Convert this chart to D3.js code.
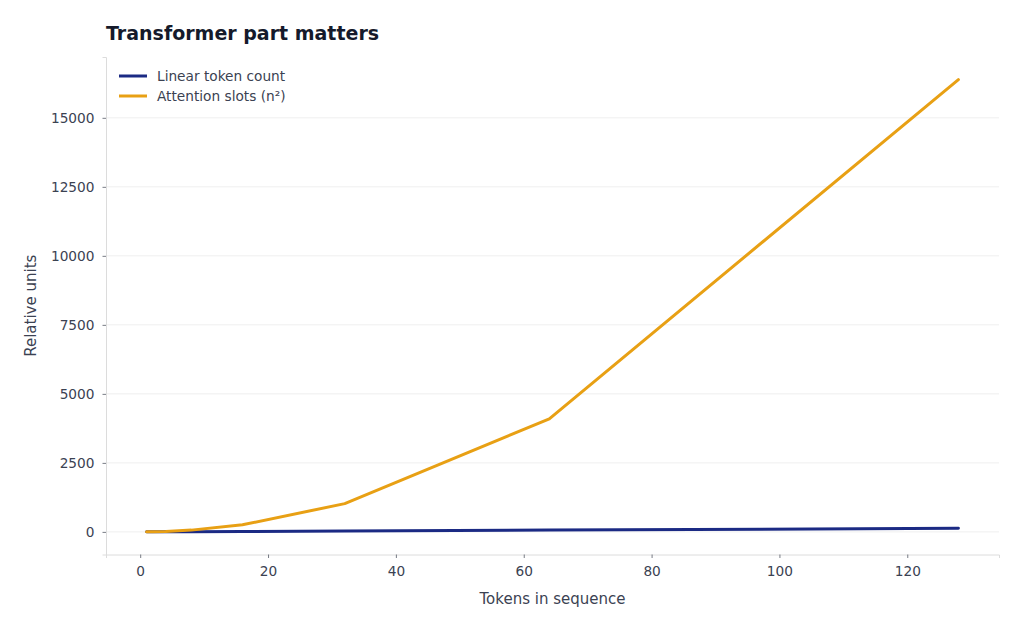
<!DOCTYPE html>
<html><head><meta charset="utf-8">
<script src="https://cdn.jsdelivr.net/npm/d3@7"></script>
<style>body{margin:0;background:#fff;font-family:"DejaVu Sans",sans-serif;}</style>
</head><body><svg id="c" width="1024" height="631"></svg>
<script>
const tokens = [1, 2, 4, 8, 16, 32, 64, 128];
const linearCount = [1, 2, 4, 8, 16, 32, 64, 128];
const attentionSlots = [1, 4, 16, 64, 256, 1024, 4096, 16384];
const xTicks = [0, 20, 40, 60, 80, 100, 120];
const yTicks = [0, 2500, 5000, 7500, 10000, 12500, 15000];
const seriesNames = ["Linear token count", "Attention slots (n²)"];
const colors = ["#1b2a84", "#e8a014"];

const svg = d3.select("#c");
const L = 106, R = 999, T = 57, B = 554.5;
const x = d3.scaleLinear().domain([-5.35, 134.35]).range([L, R]);
const y = d3.scaleLinear().domain([-819.15, 17203.15]).range([B, T]);

// grid
svg.append("g").selectAll("line").data(yTicks).join("line")
  .attr("x1", L).attr("x2", R).attr("y1", d => y(d)).attr("y2", d => y(d))
  .attr("stroke", "#ebebeb").attr("stroke-width", 0.8);

// axes
const xa = svg.append("g").attr("transform", `translate(0,${B})`)
  .call(d3.axisBottom(x).tickValues(xTicks).tickSize(3.5).tickPadding(8).tickFormat(d3.format("d")));
const ya = svg.append("g").attr("transform", `translate(${L},0)`)
  .call(d3.axisLeft(y).tickValues(yTicks).tickSize(3.5).tickPadding(8).tickFormat(d3.format("d")));
[xa, ya].forEach(a => {
  a.select(".domain").attr("stroke", "#dcdcdc").attr("stroke-width", 1);
  a.selectAll(".tick line").attr("stroke", "#555b66").attr("stroke-width", 0.8);
  a.selectAll("text").attr("fill", "#3b4252").attr("font-size", 13.7).attr("font-family", "DejaVu Sans");
});

// lines
const line = d3.line().x(d => x(d[0])).y(d => y(d[1]));
const series = [linearCount, attentionSlots];
series.forEach((vals, i) => {
  svg.append("path").datum(tokens.map((t, j) => [t, vals[j]]))
    .attr("d", line).attr("fill", "none").attr("stroke", colors[i])
    .attr("stroke-width", 3).attr("stroke-linecap", "round").attr("stroke-linejoin", "round");
});

// title
svg.append("text").attr("x", L).attr("y", 40).text("Transformer part matters")
  .attr("font-size", 19).attr("font-weight", "bold").attr("fill", "#151a2b");

// axis labels
svg.append("text").attr("x", (L + R) / 2).attr("y", 604).attr("text-anchor", "middle")
  .text("Tokens in sequence").attr("font-size", 15).attr("fill", "#3b4252");
svg.append("text").attr("transform", `translate(36,${(T + B) / 2}) rotate(-90)`).attr("text-anchor", "middle")
  .text("Relative units").attr("font-size", 15).attr("fill", "#3b4252");

// legend
seriesNames.forEach((n, i) => {
  const yy = 76 + i * 20;
  svg.append("line").attr("x1", 119).attr("x2", 147).attr("y1", yy).attr("y2", yy)
    .attr("stroke", colors[i]).attr("stroke-width", 3);
  svg.append("text").attr("x", 157).attr("y", yy + 5).text(n)
    .attr("font-size", 13.7).attr("fill", "#3b4252");
});
</script></body></html>
